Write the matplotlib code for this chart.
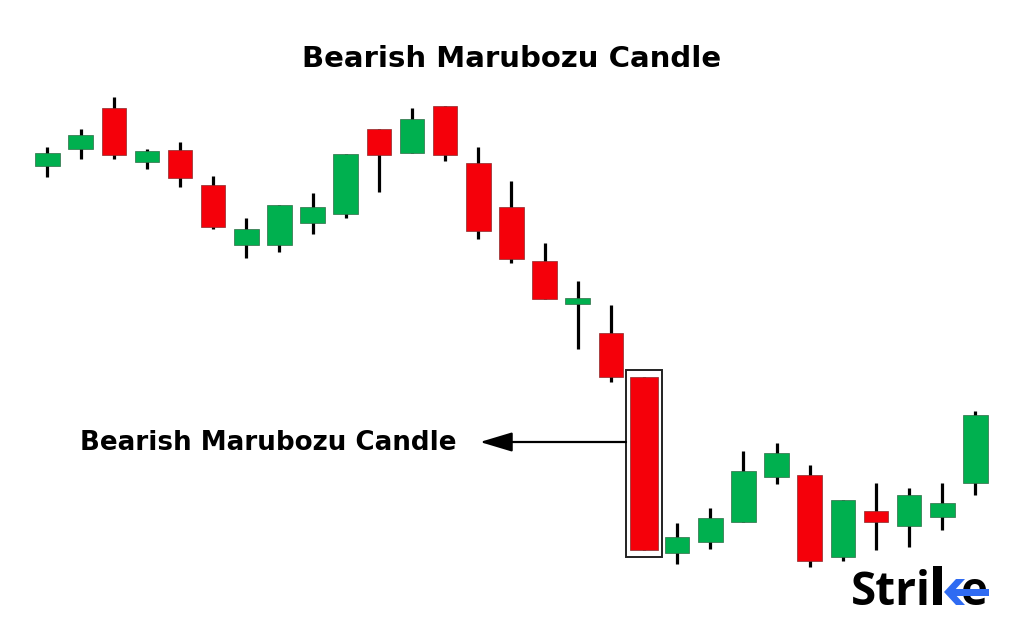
import matplotlib
matplotlib.use("Agg")
import matplotlib.pyplot as plt
from matplotlib.patches import Rectangle, Polygon

# ---------------- data ----------------
title = "Bearish Marubozu Candle"
annotation = "Bearish Marubozu Candle"
brand_left = "Stri"
brand_right = "e"

opens  = [474, 491, 532, 478, 490, 455, 395, 395, 417, 426, 511, 487, 534, 477, 433,
          379, 336, 307, 263, 87, 98, 118, 163, 165, 83, 129, 114, 123, 157]
highs  = [493, 511, 543, 491, 498, 464, 422, 435, 447, 486, 511, 532, 534, 493, 459,
          397, 359, 335, 263, 117, 132, 189, 197, 175, 140, 157, 152, 157, 229]
lows   = [463, 481, 481, 471, 453, 411, 382, 388, 406, 422, 448, 487, 479, 401, 377,
          341, 291, 258, 90, 76, 91, 118, 156, 73, 79, 90, 93, 110, 145]
closes = [487, 505, 485, 489, 462, 413, 411, 435, 433, 486, 485, 521, 485, 409, 381,
          341, 342, 263, 90, 103, 122, 169, 187, 79, 140, 118, 145, 137, 225]
marubozu_index = 18

RED = "#F5000A"
GREEN = "#00B04F"
BLUE = "#2F6BF2"
FONT = "DejaVu Sans"
LOGO_FONT = "Open Sans"

# ---------------- figure ----------------
W, H, DPI = 1024, 640, 100
fig = plt.figure(figsize=(W / DPI, H / DPI), dpi=DPI)
fig.patch.set_facecolor("white")

ax = fig.add_axes([0, 0, 1, 1])
ax.set_xlim(-1.433, 29.466)
ax.set_ylim(0, 640)
ax.axis("off")

deco = fig.add_axes([0, 0, 1, 1], zorder=5)
deco.set_xlim(0, W)
deco.set_ylim(H, 0)
deco.axis("off")
deco.patch.set_alpha(0)

for i, (o, h, l, c) in enumerate(zip(opens, highs, lows, closes)):
    up = c >= o
    color = GREEN if up else RED
    edge = "#2e6b45" if up else "#8a2a2a"
    w = 0.845 if i == marubozu_index else 0.74
    ax.vlines(i, l, h, color="black", lw=2.3, zorder=2)
    ax.add_patch(Rectangle((i - w / 2, min(o, c)), w, abs(c - o),
                           facecolor=color, edgecolor=edge, lw=0.5, zorder=3))

# highlight box around the marubozu
m = marubozu_index
bw = 1.086
ax.add_patch(Rectangle((m - bw / 2, lows[m] - 7), bw, highs[m] - lows[m] + 14,
                       facecolor="white", edgecolor="#222222", lw=1.4, zorder=1.5))

renderer = fig.canvas.get_renderer()


def fit_text(artist, target_w):
    bb = artist.get_window_extent(renderer)
    artist.set_fontsize(artist.get_fontsize() * target_w / bb.width)


# title
t = deco.text(512, 67, title, ha="center", va="baseline",
              fontsize=20, fontweight="bold", family=FONT, color="black")
fit_text(t, 420)

# annotation label + arrow
a = deco.text(80, 450, annotation, ha="left", va="baseline",
              fontsize=18, fontweight="bold", family=FONT, color="black")
fit_text(a, 377)

arrow_y = 640 - 442
deco.annotate("", xy=(480, 442), xycoords="data",
              xytext=(m - bw / 2, arrow_y), textcoords=ax.transData,
              arrowprops=dict(arrowstyle="-|>,head_length=1.0,head_width=0.3",
                              mutation_scale=20, color="black", lw=1.6,
                              shrinkA=0, shrinkB=0))

# brand logo
s = deco.text(851, 605, brand_left, ha="left", va="baseline",
              fontsize=30, fontweight="bold", family=LOGO_FONT, color="black")
fit_text(s, 80)
fs = s.get_fontsize()
x0 = s.get_window_extent(renderer).x1 + 2
deco.add_patch(Rectangle((x0, 566), 9, 39, facecolor="black", edgecolor="none"))
cx = x0 + 11
deco.add_patch(Polygon([(cx + 12, 579), (cx + 21, 579), (cx + 9, 592), (cx + 21, 605),
                        (cx + 12, 605), (cx, 592)],
                       closed=True, facecolor=BLUE, edgecolor="none", zorder=3))
e = deco.text(cx + 17, 605, brand_right, ha="left", va="baseline",
              fontsize=fs, fontweight="bold", family=LOGO_FONT, color="black", zorder=2)
ex1 = e.get_window_extent(renderer).x1
deco.add_patch(Rectangle((cx + 4, 588.5), ex1 + 1 - (cx + 4), 7,
                         facecolor=BLUE, edgecolor="none", zorder=3))

fig.savefig("out.png", dpi=DPI)
